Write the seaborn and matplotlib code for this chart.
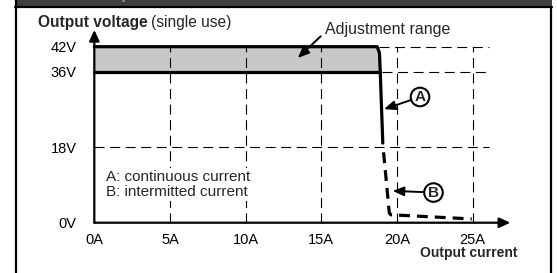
import numpy as np
import matplotlib
matplotlib.use("Agg")
import matplotlib.pyplot as plt
from matplotlib.lines import Line2D
from matplotlib.patches import Rectangle
import seaborn as sns

# values
x_ticks = [0, 5, 10, 15, 20, 25]
x_labels = ["0A", "5A", "10A", "15A", "20A", "25A"]
y_ticks = [0, 18, 36, 42]
y_labels = ["0V", "18V", "36V", "42V"]

upper_i = [0, 18.7, 18.85, 18.9]      # 42V limit, bends down at ~19A
upper_v = [42, 42, 40.5, 36]
lower_i = [0, 18.9]                   # 36V limit
lower_v = [36, 36]
a_i = [18.9, 19.07]                   # A: continuous current
a_v = [36, 19]
b_i = [19.12, 19.5, 19.6, 24.95]      # B: intermitted current
b_v = [16.8, 2.3, 1.9, 0.9]

W, H = 557, 273
sns.set_style("white")
plt.rcParams['font.family'] = ['Liberation Sans', 'DejaVu Sans']

fig = plt.figure(figsize=(W / 100, H / 100), dpi=100)
ax = fig.add_axes([0.1476, 0.1458, 0.7822, 0.7538])
ax.set_xlim(-0.8, 28)
ax.set_ylim(-2.5, 46.6)
ax.patch.set_alpha(0)

# adjustment range band
ax.fill_between([0, 18.7, 18.85, 18.9], [36, 36, 36, 36], upper_v, color="#c8c8c8", lw=0, zorder=1)

# dashed grid
grid_kw = dict(color="black", lw=0.8, ls=(0, (9, 5)), zorder=2)
for xv in [5, 10, 15, 20, 25]:
    ax.plot([xv, xv], [0, 42], **grid_kw)
ax.plot([0, 26.1], [18, 18], **grid_kw)
ax.plot([19.0, 26.1], [36, 36], **grid_kw)
ax.plot([18.8, 26.1], [42, 42], **grid_kw)

# curves
sns.lineplot(x=upper_i, y=upper_v, ax=ax, color="black", lw=2.3, sort=False, estimator=None, zorder=4)
sns.lineplot(x=lower_i, y=lower_v, ax=ax, color="black", lw=2.3, sort=False, estimator=None, zorder=4)
sns.lineplot(x=a_i, y=a_v, ax=ax, color="black", lw=2.3, sort=False, estimator=None, zorder=4)
sns.lineplot(x=b_i, y=b_v, ax=ax, color="black", lw=2.3, sort=False, estimator=None, zorder=4,
             linestyle=(0, (3.4, 2.2)))

# axes with arrows
for sp in ax.spines.values():
    sp.set_color("none")
ax.spines['left'].set_position(('data', 0))
ax.spines['bottom'].set_position(('data', 0))
arr = dict(arrowstyle="-|>,head_length=0.65,head_width=0.3", lw=1.6, color="black",
           shrinkA=0, shrinkB=0)
ax.annotate("", xy=(0, 46.0), xytext=(0, 0), arrowprops=arr, annotation_clip=False, zorder=5)
ax.annotate("", xy=(27.5, 0), xytext=(0, 0), arrowprops=arr, annotation_clip=False, zorder=5)

ax.set_xticks(x_ticks)
ax.set_xticklabels(x_labels)
ax.set_yticks(y_ticks)
ax.set_yticklabels(y_labels)
ax.tick_params(axis="both", direction="out", length=5.8, width=1.5, color="black",
               labelsize=10.5, labelcolor="black")
ax.tick_params(axis="x", pad=1.8)
ax.tick_params(axis="y", pad=7)
ax.set_xlabel("")
ax.set_ylabel("")

# annotations
ax.annotate("Adjustment range", xy=(13.45, 39.3), xytext=(15.25, 46.0), fontsize=11.5,
            ha="left", va="center", annotation_clip=False,
            arrowprops=dict(arrowstyle="-|>,head_length=0.6,head_width=0.25", lw=1.4,
                            color="black", relpos=(0, 0.35), shrinkA=1, shrinkB=0))
circ = dict(boxstyle="circle,pad=0.15", fc="white", ec="black", lw=1.5)
carr = dict(arrowstyle="-|>,head_length=0.6,head_width=0.25", lw=1.4, color="black",
            shrinkA=0, shrinkB=0)
ax.annotate("A", xy=(19.15, 27.1), xytext=(21.53, 30.0), fontsize=11, fontweight="bold",
            ha="center", va="center", bbox=circ, arrowprops=carr, zorder=6)
ax.annotate("B", xy=(19.72, 7.6), xytext=(22.42, 7.2), fontsize=11, fontweight="bold",
            ha="center", va="center", bbox=circ, arrowprops=carr, zorder=6)

wbox = dict(fc="white", ec="none", pad=1.5)
ax.text(0.78, 9.95, "A: continuous current", fontsize=11, ha="left", va="baseline",
        bbox=wbox, zorder=3)
ax.text(0.78, 6.4, "B: intermitted current", fontsize=11, ha="left", va="baseline",
        bbox=wbox, zorder=3)

# axis titles
t1 = fig.text(38 / W, 1 - 22 / H, "Output voltage", fontsize=11.2, fontweight="bold",
              ha="left", va="center")
fig.canvas.draw()
bb = t1.get_window_extent(fig.canvas.get_renderer())
fig.text((bb.x1 + 3.5) / W, 1 - 22 / H, "(single use)", fontsize=11.2, ha="left", va="center")
fig.text(517 / W, 1 - 257.5 / H, "Output current", fontsize=10, fontweight="bold",
         ha="right", va="baseline")

# frame and header bar
fig.add_artist(Rectangle((16 / W, 1 - 6.5 / H), 536 / W, 6.5 / H, transform=fig.transFigure,
                         color="#404040", lw=0))
fig.text(95 / W, 1 - 1.5 / H, "Output characteristic", color="#9a9a9a", fontsize=11,
         fontweight="bold", ha="left", va="bottom")
fig.add_artist(Line2D([15 / W, 552 / W], [1 - 7.3 / H, 1 - 7.3 / H], transform=fig.transFigure,
                      color="black", lw=1.6))
fig.add_artist(Line2D([16 / W, 16 / W], [0, 1], transform=fig.transFigure, color="black", lw=1.6))
fig.add_artist(Line2D([551 / W, 551 / W], [0, 1 - 7 / H], transform=fig.transFigure,
                      color="black", lw=1.6))

fig.savefig("out.png", dpi=100)
